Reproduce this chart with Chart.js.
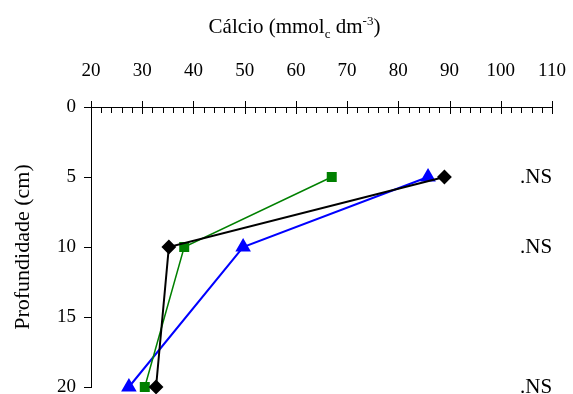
<!DOCTYPE html>
<html>
<head>
<meta charset="utf-8">
<script src="https://cdn.jsdelivr.net/npm/chart.js@4"></script>
<style>
  html, body { margin: 0; padding: 0; background: #fff; }
  #wrap { position: relative; width: 573px; height: 394px; }
  #title {
    position: absolute; left: 64px; width: 461px; top: 14px;
    text-align: center; font-family: "Liberation Serif", serif; font-size: 21px; color: #000;
  }
  #title sub, #title sup { font-size: 13px; line-height: 0; }
</style>
</head>
<body>
<div id="wrap">
  <canvas id="chart" width="573" height="394"></canvas>
  <div id="title">Cálcio (mmol<sub>c</sub> dm<sup>-3</sup>)</div>
</div>
<script>
const depths = [5, 10, 20];
const calcioBlack = [89, 35.2, 32.7];
const calcioGreen = [67, 38.2, 30.5];
const calcioBlue = [85.8, 49.7, 27.4];
const nsLabels = [".NS", ".NS", ".NS"];
const nsX = 520;

const serif = "'Liberation Serif', 'Times New Roman', serif";

function points(values) {
  return values.map((v, i) => ({ x: v, y: depths[i] }));
}

// small ticks on the top axis + the .NS labels
const decorPlugin = {
  id: "decor",
  afterDraw(chart) {
    const ctx = chart.ctx;
    const xs = chart.scales.x;
    const ys = chart.scales.y;
    const top = chart.chartArea.top;
    ctx.save();
    ctx.strokeStyle = "#000";
    ctx.lineWidth = 1;
    for (let v = 20; v <= 110; v += 2) {
      const px = Math.round(xs.getPixelForValue(v)) + 0.5;
      ctx.beginPath();
      if (v % 10 === 0) {
        ctx.moveTo(px, top - 6);
        ctx.lineTo(px, top + 7);
      } else {
        ctx.moveTo(px, top);
        ctx.lineTo(px, top + 6);
      }
      ctx.stroke();
    }
    ctx.fillStyle = "#000";
    ctx.font = "21px " + serif;
    ctx.textBaseline = "middle";
    ctx.textAlign = "left";
    nsLabels.forEach((t, i) => {
      ctx.fillText(t, nsX, ys.getPixelForValue(depths[i]));
    });
    ctx.restore();
  }
};

new Chart(document.getElementById("chart"), {
  type: "scatter",
  data: {
    datasets: [
      { label: "A", data: points(calcioBlack), borderColor: "#000000", backgroundColor: "#000000", borderWidth: 2, pointStyle: "rectRot", pointRadius: 6, showLine: true },
      { label: "B", data: points(calcioGreen), borderColor: "#008000", backgroundColor: "#008000", borderWidth: 1.5, pointStyle: "rect", pointRadius: 6, showLine: true },
      { label: "C", data: points(calcioBlue), borderColor: "#0000ff", backgroundColor: "#0000ff", borderWidth: 2, pointStyle: "triangle", pointRadius: 7, showLine: true }
    ]
  },
  options: {
    responsive: false,
    animation: false,
    clip: false,
    layout: { autoPadding: false, padding: { top: 0, right: 21, bottom: 7, left: 0 } },
    scales: {
      x: {
        position: "top", min: 20, max: 110,
        ticks: { stepSize: 10, color: "#000", font: { family: serif, size: 19 }, padding: 25, maxRotation: 0 },
        grid: { drawOnChartArea: false, drawTicks: false },
        border: { color: "#000", width: 1 },
        afterFit: s => { s.height = 107; s.paddingLeft = 0; s.paddingRight = 0; }
      },
      y: {
        reverse: true, min: 0, max: 20,
        ticks: { stepSize: 5, color: "#000", font: { family: serif, size: 19 }, padding: 8 },
        grid: { drawOnChartArea: false, drawTicks: true, tickLength: 7, color: "#000" },
        border: { color: "#000", width: 1 },
        title: { display: true, text: "Profundidade (cm)", color: "#000", font: { family: serif, size: 22 }, padding: { top: 10, bottom: 0 } },
        afterFit: s => { s.width = 91; s.paddingTop = 0; s.paddingBottom = 0; }
      }
    },
    plugins: { legend: { display: false }, tooltip: { enabled: false } }
  },
  plugins: [decorPlugin]
});
</script>
</body>
</html>
